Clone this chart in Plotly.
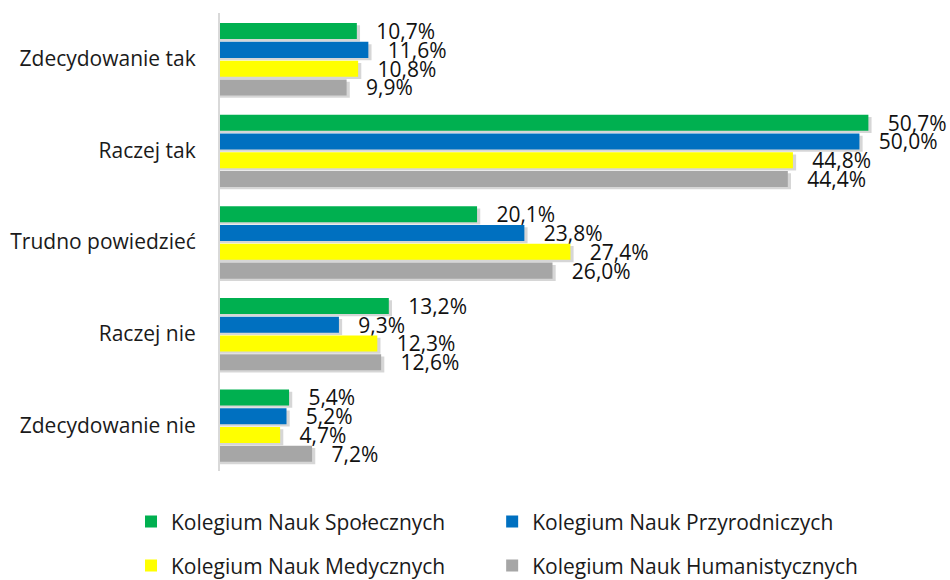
import plotly.graph_objects as go

categories = ["Zdecydowanie tak", "Raczej tak", "Trudno powiedzieć", "Raczej nie", "Zdecydowanie nie"]

spoleczne = [10.7, 50.7, 20.1, 13.2, 5.4]
przyrodnicze = [11.6, 50.0, 23.8, 9.3, 5.2]
medyczne = [10.8, 44.8, 27.4, 12.3, 4.7]
humanistyczne = [9.9, 44.4, 26.0, 12.6, 7.2]

series = [
    ("Kolegium Nauk Społecznych", spoleczne, "#00B050", "legend"),
    ("Kolegium Nauk Przyrodniczych", przyrodnicze, "#0070C0", "legend2"),
    ("Kolegium Nauk Medycznych", medyczne, "#FFFF00", "legend3"),
    ("Kolegium Nauk Humanistycznych", humanistyczne, "#A6A6A6", "legend4"),
]

_FONT = "Open Sans, sans-serif"
BAR_W = 0.175
PITCH = 0.205
START = -0.39

fig = go.Figure()

# soft drop shadows under the bars
for i, (name, vals, color, lg) in enumerate(series):
    fig.add_trace(go.Bar(
        y=categories, x=[v + 0.25 for v in vals], orientation="h",
        offset=START + i * PITCH + 0.025, width=BAR_W,
        marker=dict(color="rgba(0,0,0,0.16)", line_width=0),
        showlegend=False, hoverinfo="skip",
    ))

for i, (name, vals, color, lg) in enumerate(series):
    fig.add_trace(go.Bar(
        y=categories, x=vals, orientation="h", name=name, legend=lg,
        offset=START + i * PITCH, width=BAR_W,
        marker=dict(color=color, line_width=0),
        text=["\u00a0\u00a0\u00a0" + f"{v:.1f}".replace(".", ",") + "%" for v in vals],
        textposition="outside", constraintext="none", cliponaxis=False,
        textfont=dict(family=_FONT, size=21, color="#111111"),
    ))

legend_style = dict(
    orientation="h", xanchor="left", yanchor="middle",
    font=dict(family=_FONT, size=21, color="#1a1a1a"),
    bgcolor="rgba(0,0,0,0)", itemclick=False,
)

# legend in two rows x two columns (positions in plot-area fractions)
col_x = [-0.1236, 0.378]
row_y = [-0.111, -0.207]

fig.update_layout(
    width=950, height=580,
    margin=dict(l=220, r=10, t=13, b=109, autoexpand=False),
    barmode="overlay",
    paper_bgcolor="white", plot_bgcolor="white",
    font=dict(family=_FONT, size=21, color="#1a1a1a"),
    legend=dict(x=col_x[0], y=row_y[0], **legend_style),
    legend2=dict(x=col_x[1], y=row_y[0], **legend_style),
    legend3=dict(x=col_x[0], y=row_y[1], **legend_style),
    legend4=dict(x=col_x[1], y=row_y[1], **legend_style),
    xaxis=dict(range=[0, 56.3], visible=False, showgrid=False, zeroline=False),
    yaxis=dict(autorange="reversed", showline=True, linecolor="#D9D9D9",
               linewidth=2, ticks="", showgrid=False, ticklabelstandoff=18,
               tickfont=dict(family=_FONT, size=21, color="#1a1a1a")),
)

fig.write_html("out.html", config={"displayModeBar": False},
               post_script="document.body.style.margin='0';")
